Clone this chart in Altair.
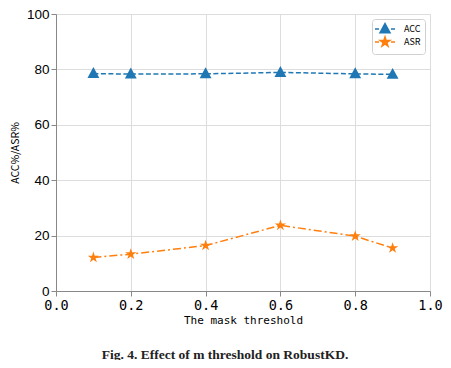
import altair as alt
import pandas as pd

thresholds = [0.1, 0.2, 0.4, 0.6, 0.8, 0.9]
acc = [78.5, 78.3, 78.4, 78.9, 78.4, 78.2]
asr = [12.1, 13.3, 16.4, 23.7, 19.8, 15.5]
series = ["ACC", "ASR"]
colors = ["#1f77b4", "#ff7f0e"]

df = pd.DataFrame(
    {"x": thresholds * 2,
     "y": acc + asr,
     "s": ["ACC"] * len(thresholds) + ["ASR"] * len(thresholds)}
)

tri = "M0,-1.1 L1,0.75 L-1,0.75 Z"
star = ("M0,-1 L0.225,-0.309 L0.951,-0.309 L0.363,0.118 L0.588,0.809 L0,0.382 "
        "L-0.588,0.809 L-0.363,0.118 L-0.951,-0.309 L-0.225,-0.309 Z")
leg_tri = "M-2.0,0 L-1.2,0 M1.2,0 L2.0,0 " + tri
leg_star = "M-2.0,0 L-1.2,0 M1.2,0 L2.0,0 " + star

xs = alt.X("x:Q", scale=alt.Scale(domain=[0, 1]),
           axis=alt.Axis(values=[0, 0.2, 0.4, 0.6, 0.8, 1.0], format=".1f",
                         title="The mask threshold", labelFont="DejaVu Sans Mono",
                         labelFontSize=13.5, titleFont="DejaVu Sans Mono",
                         titleFontSize=11, titleFontWeight="normal", labelPadding=2,
                         labelFlush=False, titlePadding=3))
ys = alt.Y("y:Q", scale=alt.Scale(domain=[0, 100]),
           axis=alt.Axis(values=[0, 20, 40, 60, 80, 100], title="ACC%/ASR%",
                         labelFont="Liberation Sans", labelFontSize=13.5, labelPadding=2,
                         tickSize=5,
                         titleFont="Noto Sans CJK SC", titleFontSize=10.5,
                         titleFontWeight="normal", titlePadding=6))

leg = dict(title=None, orient="top-right", offset=5,
           fillColor="white", strokeColor="#d0d0d0", cornerRadius=3,
           padding=4, labelFont="Noto Sans CJK SC", labelFontSize=9,
           symbolSize=100, rowPadding=-3, labelOffset=13, symbolOffset=3,
           symbolStrokeWidth=1.5)

line = alt.Chart(df).mark_line(strokeWidth=1.5).encode(
    x=xs, y=ys,
    color=alt.Color("s:N", scale=alt.Scale(domain=series, range=colors), legend=None),
    strokeDash=alt.StrokeDash("s:N", scale=alt.Scale(domain=series, range=[[5, 2.5], [8, 3, 2, 3]]),
                              legend=None),
)

points = alt.Chart(df).mark_point(filled=True, opacity=1, size=140).encode(
    x=xs, y=ys,
    color=alt.Color("s:N", scale=alt.Scale(domain=series, range=colors), legend=None),
    shape=alt.Shape("s:N", scale=alt.Scale(domain=series, range=[tri, star]), legend=None),
)

legend_layer = alt.Chart(df).transform_filter("false").mark_point(
    filled=True, opacity=1, size=100, strokeWidth=1.5
).encode(
    x=xs, y=ys,
    color=alt.Color("s:N", scale=alt.Scale(domain=series, range=colors), legend=alt.Legend(**leg)),
    stroke=alt.Stroke("s:N", scale=alt.Scale(domain=series, range=colors), legend=alt.Legend(**leg)),
    shape=alt.Shape("s:N", scale=alt.Scale(domain=series, range=[leg_tri, leg_star]),
                    legend=alt.Legend(**leg)),
)

chart = alt.layer(line, points, legend_layer).resolve_scale(
    shape="independent", color="independent", stroke="independent"
).properties(
    width=374, height=277,
    autosize=alt.AutoSizeParams(type="none"),
    padding={"left": 48, "top": 6, "right": 13, "bottom": 69},
    title=alt.Title("Fig. 4.  Effect of m threshold on RobustKD.", orient="bottom",
                    font="Liberation Serif", fontSize=13.5, fontWeight="bold",
                    color="#222222", offset=22, dx=-18),
).configure_view(stroke="#333333", strokeWidth=1).configure_axis(
    grid=True, gridColor="#cccccc", gridDash=[5, 2, 1, 2], gridWidth=1,
    domainColor="#333333", tickColor="#333333", tickSize=3.5,
    labelColor="#111111", titleColor="#111111",
).configure(background="white")

chart.save("out.html", embed_options={"renderer": "svg", "actions": False})
